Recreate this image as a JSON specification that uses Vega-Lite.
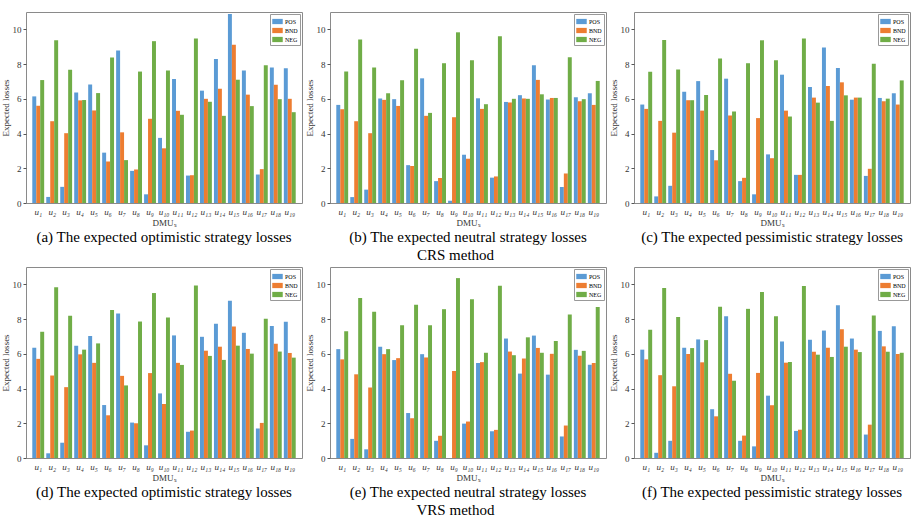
{
"$schema":"https://vega.github.io/schema/vega-lite/v6.json",
"padding":{"left":0,"top":11,"right":0,"bottom":0},
"background":"white",
"data":{"values":[
{"p":"a","u":"u₁","POS":6.14,"BND":5.6,"NEG":7.08},
{"p":"a","u":"u₂","POS":0.35,"BND":4.71,"NEG":9.38},
{"p":"a","u":"u₃","POS":0.93,"BND":4.02,"NEG":7.68},
{"p":"a","u":"u₄","POS":6.37,"BND":5.91,"NEG":5.93},
{"p":"a","u":"u₅","POS":6.83,"BND":5.33,"NEG":6.33},
{"p":"a","u":"u₆","POS":2.9,"BND":2.39,"NEG":8.38},
{"p":"a","u":"u₇","POS":8.78,"BND":4.07,"NEG":2.47},
{"p":"a","u":"u₈","POS":1.85,"BND":1.93,"NEG":7.57},
{"p":"a","u":"u₉","POS":0.5,"BND":4.85,"NEG":9.32},
{"p":"a","u":"u₁₀","POS":3.75,"BND":3.15,"NEG":7.63},
{"p":"a","u":"u₁₁","POS":7.14,"BND":5.31,"NEG":5.08},
{"p":"a","u":"u₁₂","POS":1.58,"BND":1.6,"NEG":9.48},
{"p":"a","u":"u₁₃","POS":6.47,"BND":6.0,"NEG":5.83},
{"p":"a","u":"u₁₄","POS":8.3,"BND":6.58,"NEG":5.02},
{"p":"a","u":"u₁₅","POS":10.89,"BND":9.11,"NEG":7.1},
{"p":"a","u":"u₁₆","POS":7.63,"BND":6.24,"NEG":5.58},
{"p":"a","u":"u₁₇","POS":1.64,"BND":1.95,"NEG":7.93},
{"p":"a","u":"u₁₈","POS":7.8,"BND":6.81,"NEG":5.98},
{"p":"a","u":"u₁₉","POS":7.76,"BND":6.0,"NEG":5.23},
{"p":"b","u":"u₁","POS":5.65,"BND":5.4,"NEG":7.57},
{"p":"b","u":"u₂","POS":0.34,"BND":4.71,"NEG":9.41},
{"p":"b","u":"u₃","POS":0.77,"BND":4.02,"NEG":7.8},
{"p":"b","u":"u₄","POS":6.02,"BND":5.94,"NEG":6.32},
{"p":"b","u":"u₅","POS":5.98,"BND":5.59,"NEG":7.07},
{"p":"b","u":"u₆","POS":2.18,"BND":2.13,"NEG":8.89},
{"p":"b","u":"u₇","POS":7.18,"BND":5.02,"NEG":5.19},
{"p":"b","u":"u₈","POS":1.26,"BND":1.44,"NEG":8.05},
{"p":"b","u":"u₉","POS":0.13,"BND":4.94,"NEG":9.83},
{"p":"b","u":"u₁₀","POS":2.78,"BND":2.55,"NEG":8.22},
{"p":"b","u":"u₁₁","POS":6.03,"BND":5.42,"NEG":5.69},
{"p":"b","u":"u₁₂","POS":1.46,"BND":1.53,"NEG":9.6},
{"p":"b","u":"u₁₃","POS":5.82,"BND":5.79,"NEG":6.0},
{"p":"b","u":"u₁₄","POS":6.21,"BND":6.02,"NEG":6.0},
{"p":"b","u":"u₁₅","POS":7.93,"BND":7.09,"NEG":6.26},
{"p":"b","u":"u₁₆","POS":5.96,"BND":6.05,"NEG":6.05},
{"p":"b","u":"u₁₇","POS":0.92,"BND":1.7,"NEG":8.39},
{"p":"b","u":"u₁₈","POS":6.09,"BND":5.86,"NEG":5.98},
{"p":"b","u":"u₁₉","POS":6.32,"BND":5.65,"NEG":7.03},
{"p":"c","u":"u₁","POS":5.67,"BND":5.42,"NEG":7.56},
{"p":"c","u":"u₂","POS":0.38,"BND":4.73,"NEG":9.39},
{"p":"c","u":"u₃","POS":0.99,"BND":4.05,"NEG":7.69},
{"p":"c","u":"u₄","POS":6.41,"BND":5.92,"NEG":5.92},
{"p":"c","u":"u₅","POS":7.02,"BND":5.32,"NEG":6.22},
{"p":"c","u":"u₆","POS":3.05,"BND":2.46,"NEG":8.32},
{"p":"c","u":"u₇","POS":7.16,"BND":5.04,"NEG":5.27},
{"p":"c","u":"u₈","POS":1.26,"BND":1.45,"NEG":8.05},
{"p":"c","u":"u₉","POS":0.5,"BND":4.89,"NEG":9.37},
{"p":"c","u":"u₁₀","POS":2.8,"BND":2.58,"NEG":8.22},
{"p":"c","u":"u₁₁","POS":7.39,"BND":5.32,"NEG":4.98},
{"p":"c","u":"u₁₂","POS":1.62,"BND":1.62,"NEG":9.48},
{"p":"c","u":"u₁₃","POS":6.68,"BND":6.07,"NEG":5.78},
{"p":"c","u":"u₁₄","POS":8.95,"BND":6.74,"NEG":4.73},
{"p":"c","u":"u₁₅","POS":7.77,"BND":6.95,"NEG":6.2},
{"p":"c","u":"u₁₆","POS":5.95,"BND":6.07,"NEG":6.07},
{"p":"c","u":"u₁₇","POS":1.56,"BND":1.97,"NEG":8.02},
{"p":"c","u":"u₁₈","POS":6.05,"BND":5.86,"NEG":6.01},
{"p":"c","u":"u₁₉","POS":6.32,"BND":5.67,"NEG":7.06},
{"p":"d","u":"u₁","POS":6.35,"BND":5.71,"NEG":7.27},
{"p":"d","u":"u₂","POS":0.27,"BND":4.75,"NEG":9.83},
{"p":"d","u":"u₃","POS":0.88,"BND":4.08,"NEG":8.19},
{"p":"d","u":"u₄","POS":6.47,"BND":5.97,"NEG":6.24},
{"p":"d","u":"u₅","POS":7.02,"BND":5.48,"NEG":6.6},
{"p":"d","u":"u₆","POS":3.05,"BND":2.46,"NEG":8.53},
{"p":"d","u":"u₇","POS":8.32,"BND":4.73,"NEG":4.18},
{"p":"d","u":"u₈","POS":2.04,"BND":2.0,"NEG":7.86},
{"p":"d","u":"u₉","POS":0.73,"BND":4.89,"NEG":9.5},
{"p":"d","u":"u₁₀","POS":3.72,"BND":3.11,"NEG":8.09},
{"p":"d","u":"u₁₁","POS":7.06,"BND":5.48,"NEG":5.36},
{"p":"d","u":"u₁₂","POS":1.51,"BND":1.58,"NEG":9.94},
{"p":"d","u":"u₁₃","POS":6.98,"BND":6.18,"NEG":5.88},
{"p":"d","u":"u₁₄","POS":7.73,"BND":6.41,"NEG":5.65},
{"p":"d","u":"u₁₅","POS":9.06,"BND":7.58,"NEG":6.47},
{"p":"d","u":"u₁₆","POS":7.21,"BND":6.28,"NEG":6.01},
{"p":"d","u":"u₁₇","POS":1.7,"BND":2.02,"NEG":8.02},
{"p":"d","u":"u₁₈","POS":7.6,"BND":6.58,"NEG":6.13},
{"p":"d","u":"u₁₉","POS":7.84,"BND":6.05,"NEG":5.78},
{"p":"e","u":"u₁","POS":6.27,"BND":5.68,"NEG":7.3},
{"p":"e","u":"u₂","POS":1.1,"BND":4.82,"NEG":9.22},
{"p":"e","u":"u₃","POS":0.5,"BND":4.06,"NEG":8.42},
{"p":"e","u":"u₄","POS":6.4,"BND":5.98,"NEG":6.27},
{"p":"e","u":"u₅","POS":5.64,"BND":5.75,"NEG":7.64},
{"p":"e","u":"u₆","POS":2.59,"BND":2.29,"NEG":8.82},
{"p":"e","u":"u₇","POS":5.98,"BND":5.79,"NEG":7.64},
{"p":"e","u":"u₈","POS":0.99,"BND":1.28,"NEG":8.57},
{"p":"e","u":"u₉","POS":0,"BND":5.01,"NEG":10.36},
{"p":"e","u":"u₁₀","POS":1.98,"BND":2.1,"NEG":9.14},
{"p":"e","u":"u₁₁","POS":5.47,"BND":5.52,"NEG":6.06},
{"p":"e","u":"u₁₂","POS":1.54,"BND":1.62,"NEG":9.92},
{"p":"e","u":"u₁₃","POS":6.88,"BND":6.13,"NEG":5.92},
{"p":"e","u":"u₁₄","POS":4.86,"BND":5.73,"NEG":6.95},
{"p":"e","u":"u₁₅","POS":7.05,"BND":6.34,"NEG":6.06},
{"p":"e","u":"u₁₆","POS":4.8,"BND":6.0,"NEG":6.74},
{"p":"e","u":"u₁₇","POS":1.24,"BND":1.87,"NEG":8.27},
{"p":"e","u":"u₁₈","POS":6.23,"BND":5.89,"NEG":6.17},
{"p":"e","u":"u₁₉","POS":5.37,"BND":5.47,"NEG":8.7},
{"p":"f","u":"u₁","POS":6.24,"BND":5.68,"NEG":7.38},
{"p":"f","u":"u₂","POS":0.3,"BND":4.77,"NEG":9.79},
{"p":"f","u":"u₃","POS":0.99,"BND":4.13,"NEG":8.12},
{"p":"f","u":"u₄","POS":6.35,"BND":5.99,"NEG":6.33},
{"p":"f","u":"u₅","POS":6.83,"BND":5.51,"NEG":6.79},
{"p":"f","u":"u₆","POS":2.81,"BND":2.4,"NEG":8.71},
{"p":"f","u":"u₇","POS":8.16,"BND":4.85,"NEG":4.45},
{"p":"f","u":"u₈","POS":0.99,"BND":1.29,"NEG":8.59},
{"p":"f","u":"u₉","POS":0.67,"BND":4.9,"NEG":9.56},
{"p":"f","u":"u₁₀","POS":3.59,"BND":3.04,"NEG":8.17},
{"p":"f","u":"u₁₁","POS":6.71,"BND":5.49,"NEG":5.53},
{"p":"f","u":"u₁₂","POS":1.56,"BND":1.63,"NEG":9.9},
{"p":"f","u":"u₁₃","POS":6.81,"BND":6.12,"NEG":5.95},
{"p":"f","u":"u₁₄","POS":7.34,"BND":6.35,"NEG":5.82},
{"p":"f","u":"u₁₅","POS":8.8,"BND":7.41,"NEG":6.41},
{"p":"f","u":"u₁₆","POS":6.88,"BND":6.24,"NEG":6.1},
{"p":"f","u":"u₁₇","POS":1.35,"BND":1.92,"NEG":8.21},
{"p":"f","u":"u₁₈","POS":7.32,"BND":6.43,"NEG":6.12},
{"p":"f","u":"u₁₉","POS":7.59,"BND":5.99,"NEG":6.06}
]},
"spacing":3,
"resolve":{"scale":{"color":"independent","x":"independent","y":"independent"},"legend":{"color":"independent"}},
"vconcat":[
{"spacing":1,
 "resolve":{"scale":{"color":"independent","x":"independent","y":"independent"},"legend":{"color":"independent"}},
 "title":{"text":"CRS method","orient":"bottom","anchor":"middle","offset":2},
 "hconcat":[
  {"width":276,"height":191,"transform":[{"filter":"datum.p==='a'"},{"fold":["POS","BND","NEG"],"as":["k","v"]}],
   "title":{"text":"(a) The expected optimistic strategy losses","orient":"bottom"},
   "mark":"bar",
   "encoding":{
    "x":{"field":"u","type":"nominal","sort":null,"scale":{"paddingInner":0.15,"paddingOuter":0.45},"axis":{"title":"DMUₛ"}},
    "xOffset":{"field":"k","type":"nominal","sort":["POS","BND","NEG"]},
    "y":{"field":"v","type":"quantitative","scale":{"domain":[0,11],"nice":false},"axis":{"values":[0,2,4,6,8,10],"title":"Expected losses"}},
    "color":{"field":"k","type":"nominal","scale":{"domain":["POS","BND","NEG"],"range":["#5B9BD5","#ED7D31","#70AD47"]}}}},
  {"width":276,"height":191,"transform":[{"filter":"datum.p==='b'"},{"fold":["POS","BND","NEG"],"as":["k","v"]}],
   "title":{"text":"(b) The expected neutral strategy losses","orient":"bottom"},
   "mark":"bar",
   "encoding":{
    "x":{"field":"u","type":"nominal","sort":null,"scale":{"paddingInner":0.15,"paddingOuter":0.45},"axis":{"title":"DMUₛ"}},
    "xOffset":{"field":"k","type":"nominal","sort":["POS","BND","NEG"]},
    "y":{"field":"v","type":"quantitative","scale":{"domain":[0,11],"nice":false},"axis":{"values":[0,2,4,6,8,10],"title":"Expected losses"}},
    "color":{"field":"k","type":"nominal","scale":{"domain":["POS","BND","NEG"],"range":["#5B9BD5","#ED7D31","#70AD47"]}}}},
  {"width":276,"height":191,"transform":[{"filter":"datum.p==='c'"},{"fold":["POS","BND","NEG"],"as":["k","v"]}],
   "title":{"text":"(c) The expected pessimistic strategy losses","orient":"bottom"},
   "mark":"bar",
   "encoding":{
    "x":{"field":"u","type":"nominal","sort":null,"scale":{"paddingInner":0.15,"paddingOuter":0.45},"axis":{"title":"DMUₛ"}},
    "xOffset":{"field":"k","type":"nominal","sort":["POS","BND","NEG"]},
    "y":{"field":"v","type":"quantitative","scale":{"domain":[0,11],"nice":false},"axis":{"values":[0,2,4,6,8,10],"title":"Expected losses"}},
    "color":{"field":"k","type":"nominal","scale":{"domain":["POS","BND","NEG"],"range":["#5B9BD5","#ED7D31","#70AD47"]}}}}
 ]},
{"spacing":1,
 "resolve":{"scale":{"color":"independent","x":"independent","y":"independent"},"legend":{"color":"independent"}},
 "title":{"text":"VRS method","orient":"bottom","anchor":"middle","offset":2},
 "hconcat":[
  {"width":276,"height":191,"transform":[{"filter":"datum.p==='d'"},{"fold":["POS","BND","NEG"],"as":["k","v"]}],
   "title":{"text":"(d) The expected optimistic strategy losses","orient":"bottom"},
   "mark":"bar",
   "encoding":{
    "x":{"field":"u","type":"nominal","sort":null,"scale":{"paddingInner":0.15,"paddingOuter":0.45},"axis":{"title":"DMUₛ"}},
    "xOffset":{"field":"k","type":"nominal","sort":["POS","BND","NEG"]},
    "y":{"field":"v","type":"quantitative","scale":{"domain":[0,11],"nice":false},"axis":{"values":[0,2,4,6,8,10],"title":"Expected losses"}},
    "color":{"field":"k","type":"nominal","scale":{"domain":["POS","BND","NEG"],"range":["#5B9BD5","#ED7D31","#70AD47"]}}}},
  {"width":276,"height":191,"transform":[{"filter":"datum.p==='e'"},{"fold":["POS","BND","NEG"],"as":["k","v"]}],
   "title":{"text":"(e) The expected neutral strategy losses","orient":"bottom"},
   "mark":"bar",
   "encoding":{
    "x":{"field":"u","type":"nominal","sort":null,"scale":{"paddingInner":0.15,"paddingOuter":0.45},"axis":{"title":"DMUₛ"}},
    "xOffset":{"field":"k","type":"nominal","sort":["POS","BND","NEG"]},
    "y":{"field":"v","type":"quantitative","scale":{"domain":[0,11],"nice":false},"axis":{"values":[0,2,4,6,8,10],"title":"Expected losses"}},
    "color":{"field":"k","type":"nominal","scale":{"domain":["POS","BND","NEG"],"range":["#5B9BD5","#ED7D31","#70AD47"]}}}},
  {"width":276,"height":191,"transform":[{"filter":"datum.p==='f'"},{"fold":["POS","BND","NEG"],"as":["k","v"]}],
   "title":{"text":"(f) The expected pessimistic strategy losses","orient":"bottom"},
   "mark":"bar",
   "encoding":{
    "x":{"field":"u","type":"nominal","sort":null,"scale":{"paddingInner":0.15,"paddingOuter":0.45},"axis":{"title":"DMUₛ"}},
    "xOffset":{"field":"k","type":"nominal","sort":["POS","BND","NEG"]},
    "y":{"field":"v","type":"quantitative","scale":{"domain":[0,11],"nice":false},"axis":{"values":[0,2,4,6,8,10],"title":"Expected losses"}},
    "color":{"field":"k","type":"nominal","scale":{"domain":["POS","BND","NEG"],"range":["#5B9BD5","#ED7D31","#70AD47"]}}}}
 ]}
],
"config":{
 "font":"Liberation Serif",
 "view":{"stroke":"#8a8a8a","strokeWidth":1},
 "bar":{"stroke":null},
 "title":{"font":"Liberation Serif","fontSize":15,"fontWeight":"normal","color":"#000","offset":3},
 "axis":{"domain":false,"grid":false,"labelFont":"Liberation Serif","titleFont":"Liberation Serif","labelColor":"#333","titleColor":"#333","titleFontWeight":"normal"},
 "axisX":{"ticks":false,"labelAngle":0,"labelFontSize":9,"labelFontStyle":"italic","labelPadding":4,"titleFontSize":9,"titlePadding":2},
 "axisY":{"tickSize":3,"tickColor":"#555","labelFontSize":9,"labelPadding":2,"titleFontSize":9,"titlePadding":2},
 "legend":{"orient":"top-right","title":null,"offset":2,"padding":2,"strokeColor":"#999","fillColor":"white","labelFontSize":6,"labelFont":"Liberation Serif","symbolType":"M-1,-0.5H1V0.5H-1Z","symbolSize":110,"symbolStrokeWidth":0,"rowPadding":0,"labelOffset":2,"cornerRadius":0}
}
}
